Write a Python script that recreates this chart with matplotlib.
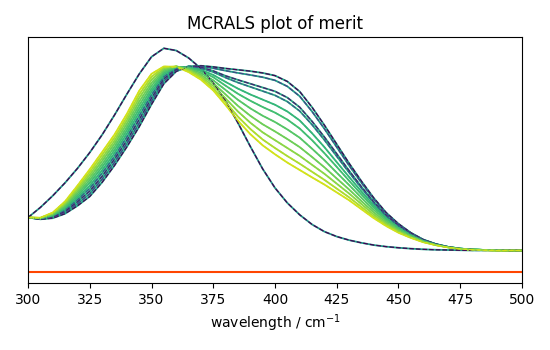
import numpy as np
import matplotlib
matplotlib.use("Agg")
import matplotlib.pyplot as plt

# wavelengths (5 nm steps)
wl = np.arange(300, 501, 5)

# first spectrum (sharp band at ~356)
spec_a = [24.3, 28.8, 34.0, 39.8, 46.2, 53.3, 61.2, 70.0, 79.3, 88.3,
          96.0, 99.8, 98.8, 95.5, 90.8, 84.3, 76.3, 66.5, 56.0, 46.0,
          37.5, 30.8, 25.5, 21.2, 18.0, 15.8, 14.2, 13.0, 12.0, 11.3,
          10.8, 10.4, 10.1, 9.9, 9.8, 9.7, 9.6, 9.6, 9.6, 9.6, 9.6]

# the other spectra, from the one with the largest shoulder to the one with none
spectra = [
    [24.3, 23.5, 24.0, 26.0, 29.5, 33.7, 40.0, 47.5, 55.8, 64.8,
     74.8, 84.0, 89.5, 91.6, 92.0, 91.5, 90.8, 90.2, 89.6, 88.8,
     87.6, 85.0, 80.5, 73.5, 65.5, 57.0, 48.5, 40.5, 33.0, 26.5,
     21.5, 17.5, 14.5, 12.5, 11.2, 10.4, 10.0, 9.8, 9.7, 9.6, 9.6],
    [24.3, 23.6, 24.3, 26.6, 30.4, 34.9, 41.4, 48.9, 57.3, 66.4,
     76.2, 85.2, 90.1, 91.7, 91.7, 90.9, 89.8, 88.8, 87.9, 86.9,
     85.5, 82.8, 78.4, 71.6, 63.9, 55.7, 47.5, 39.8, 32.5, 26.1,
     21.3, 17.4, 14.4, 12.5, 11.2, 10.4, 10.0, 9.8, 9.7, 9.6, 9.6],
    [24.3, 23.6, 24.5, 27.1, 31.3, 36.1, 42.7, 50.3, 58.7, 68.0,
     77.6, 86.2, 90.5, 91.7, 91.3, 89.7, 87.5, 85.7, 84.0, 82.3,
     80.6, 77.8, 73.5, 67.2, 60.2, 52.7, 45.2, 38.0, 31.2, 25.3,
     20.7, 17.0, 14.3, 12.4, 11.2, 10.4, 10.0, 9.8, 9.7, 9.6, 9.6],
    [24.3, 23.7, 24.8, 27.7, 32.2, 37.3, 44.1, 51.6, 60.2, 69.6,
     79.0, 87.1, 90.9, 91.6, 90.9, 89.2, 86.7, 84.5, 82.6, 80.7,
     78.8, 76.0, 71.8, 65.7, 58.9, 51.6, 44.4, 37.4, 30.8, 25.0,
     20.5, 16.9, 14.2, 12.4, 11.2, 10.4, 10.0, 9.8, 9.7, 9.6, 9.6],
    [24.3, 23.8, 25.0, 28.2, 33.1, 38.5, 45.4, 53.0, 61.7, 71.2,
     80.4, 88.0, 91.2, 91.5, 90.2, 87.9, 84.8, 81.8, 79.2, 76.9,
     74.6, 71.6, 67.6, 61.9, 55.7, 49.0, 42.4, 35.9, 29.7, 24.3,
     20.0, 16.7, 14.1, 12.3, 11.1, 10.4, 10.0, 9.8, 9.7, 9.6, 9.6],
    [24.3, 23.9, 25.3, 28.8, 34.0, 39.8, 46.8, 54.4, 63.2, 72.8,
     81.7, 88.8, 91.5, 91.2, 89.6, 86.9, 83.1, 79.5, 76.4, 73.6,
     71.1, 68.0, 64.0, 58.8, 53.0, 46.9, 40.7, 34.6, 28.8, 23.7,
     19.6, 16.4, 13.9, 12.3, 11.1, 10.4, 10.0, 9.8, 9.7, 9.6, 9.6],
    [24.3, 23.9, 25.5, 29.3, 34.9, 41.0, 48.1, 55.8, 64.6, 74.4,
     83.1, 89.5, 91.6, 90.9, 88.8, 85.5, 81.2, 76.8, 73.0, 69.7,
     66.9, 63.6, 59.9, 55.0, 49.9, 44.3, 38.8, 33.1, 27.7, 23.0,
     19.1, 16.1, 13.8, 12.2, 11.1, 10.3, 10.0, 9.8, 9.7, 9.6, 9.6],
    [24.3, 24.0, 25.8, 29.9, 35.8, 42.2, 49.5, 57.2, 66.1, 76.0,
     84.4, 90.2, 91.7, 90.6, 88.0, 84.2, 79.2, 74.1, 69.7, 65.9,
     62.7, 59.3, 55.7, 51.3, 46.7, 41.7, 36.8, 31.6, 26.6, 22.2,
     18.7, 15.9, 13.7, 12.1, 11.1, 10.3, 10.0, 9.8, 9.7, 9.6, 9.6],
    [24.3, 24.1, 26.0, 30.4, 36.7, 43.4, 50.8, 58.5, 67.6, 77.6,
     85.8, 90.8, 91.7, 90.2, 87.3, 83.0, 77.4, 71.6, 66.6, 62.3,
     58.8, 55.3, 51.8, 47.8, 43.8, 39.4, 35.0, 30.3, 25.6, 21.6,
     18.2, 15.6, 13.5, 12.1, 11.0, 10.3, 9.9, 9.7, 9.6, 9.6, 9.6],
    [24.3, 24.1, 26.3, 31.0, 37.6, 44.6, 52.2, 59.9, 69.0, 79.2,
     87.1, 91.3, 91.7, 89.8, 86.6, 81.9, 75.8, 69.3, 63.8, 59.1,
     55.3, 51.7, 48.3, 44.7, 41.1, 37.2, 33.3, 29.0, 24.7, 21.0,
     17.8, 15.4, 13.4, 12.0, 11.0, 10.3, 9.9, 9.7, 9.6, 9.6, 9.6],
    [24.3, 24.2, 26.5, 31.5, 38.5, 45.8, 53.5, 61.3, 70.5, 80.8,
     88.4, 91.7, 91.5, 89.2, 85.8, 81.0, 74.5, 67.5, 61.5, 56.5,
     52.5, 48.8, 45.5, 42.2, 39.0, 35.5, 32.0, 28.0, 24.0, 20.5,
     17.5, 15.2, 13.3, 12.0, 11.0, 10.3, 9.9, 9.7, 9.6, 9.6, 9.6],
]

# residual (data - reconstruction)
residual = [0.0, 0.0, 0.0, 0.0, 0.0, 0.0, 0.0, 0.0, 0.0, 0.0,
            0.0, 0.0, 0.0, 0.0, 0.0, 0.0, 0.0, 0.0, 0.0, 0.0,
            0.0, 0.0, 0.0, 0.0, 0.0, 0.0, 0.0, 0.0, 0.0, 0.0,
            0.0, 0.0, 0.0, 0.0, 0.0, 0.0, 0.0, 0.0, 0.0, 0.0, 0.0]

cmap = plt.get_cmap("viridis")
n = len(spectra)

# line colours: solid (data) from teal to yellow-green, dashed (fit) dark for the top curves
solid_cols = [cmap(0.58 + 0.35 * (i / (n - 1)) ** 1.6) for i in range(n)]
dash_cols = [cmap(0.0), cmap(0.22), cmap(0.08), cmap(0.3)] + solid_cols[4:]

fig = plt.figure(figsize=(5.5, 3.5), dpi=100)
ax = fig.add_axes([0.051, 0.191, 0.898, 0.703])

# original data
ax.plot(wl, spec_a, color=cmap(0.55), lw=1.3)
for i, s in enumerate(spectra):
    ax.plot(wl, s, color=solid_cols[i], lw=1.3)

# reconstructed data (dashed)
ax.plot(wl, spec_a, color=cmap(0.0), lw=0.9, ls="--")
for i, s in enumerate(spectra):
    ax.plot(wl, s, color=dash_cols[i], lw=0.9, ls="--")

# residual
ax.plot(wl, residual, color="orangered", lw=1.5)

ax.set_xlim(300, 500)
ax.set_yticks([])
ax.set_xlabel("wavelength / cm$^{-1}$")
ax.set_title("MCRALS plot of merit")

fig.savefig("out.png", dpi=100)
